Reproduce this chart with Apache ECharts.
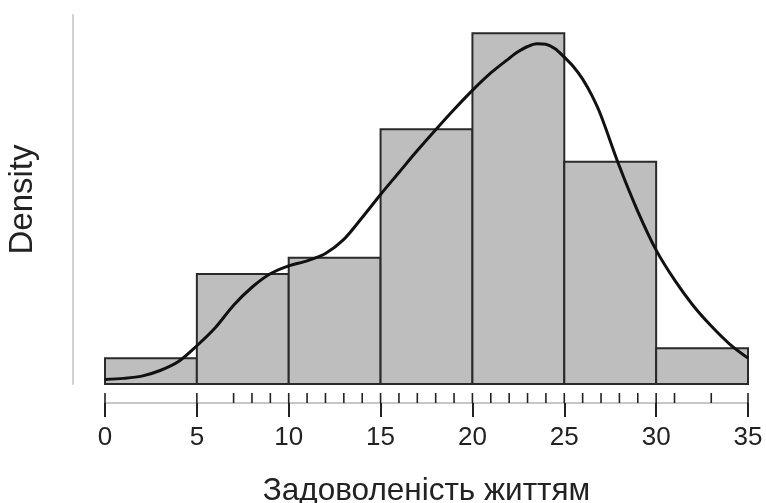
<!DOCTYPE html>
<html>
<head>
<meta charset="utf-8">
<script src="https://cdn.jsdelivr.net/npm/echarts@6/dist/echarts.min.js"></script>
<style>
html,body{margin:0;padding:0;background:#fff;}
#chart{width:766px;height:503px;}
</style>
</head>
<body>
<div id="chart"></div>
<script>
// Histogram bins [start, end] and densities
const binStarts = [0, 5, 10, 15, 20, 25, 30];
const binEnds = [5, 10, 15, 20, 25, 30, 35];
const binDensity = [0.00457, 0.01956, 0.02245, 0.04528, 0.06235, 0.03952, 0.00635];

// Kernel density curve (x, density)
const curveX = [0, 1, 2, 3, 4, 5, 6, 7, 8, 9, 10, 11, 12, 13, 14, 15, 16, 17, 18, 19, 20, 21, 22, 22.5, 23, 23.5, 24, 24.5, 25, 25.5, 26, 26.5, 27, 28, 29, 30, 31, 32, 33, 34, 35];
const curveY = [0.0008, 0.0010, 0.0014, 0.0024, 0.0040, 0.0068, 0.0100, 0.0140, 0.0172, 0.0196, 0.0210, 0.0219, 0.0232, 0.0257, 0.0296, 0.0337, 0.0376, 0.0415, 0.0452, 0.0488, 0.0522, 0.0553, 0.0579, 0.0591, 0.0600, 0.0605, 0.0604, 0.0596, 0.0581, 0.0564, 0.0542, 0.0513, 0.0477, 0.0387, 0.0307, 0.0238, 0.0185, 0.0140, 0.0103, 0.0071, 0.0046];

// Rug of observed values
const rugValues = [0, 5, 7, 8, 9, 10, 11, 12, 13, 14, 15, 16, 17, 18, 19, 20, 21, 22, 23, 24, 25, 26, 27, 28, 29, 30, 31, 33, 35];

const xTicks = [0, 5, 10, 15, 20, 25, 30, 35];
const xTitle = 'Задоволеність життям';
const yTitle = 'Density';

const FONT = '"Liberation Sans", Arial, sans-serif';
const chart = echarts.init(document.getElementById('chart'), null, {renderer: 'canvas'});

const barData = binStarts.map((s, i) => [s, binEnds[i], binDensity[i]]);
const curveData = curveX.map((x, i) => [x, curveY[i]]);
const rugData = rugValues.map(v => [v, 0]);

chart.setOption({
  animation: false,
  backgroundColor: '#fff',
  grid: {left: 105, right: 18, top: 15, bottom: 119, containLabel: false, outerBoundsMode: 'none'},
  xAxis: {
    type: 'value', min: xTicks[0], max: xTicks[xTicks.length - 1], interval: 5,
    offset: 19,
    axisLine: {show: true, onZero: false, lineStyle: {color: '#b5b5b5', width: 1.5}},
    axisTick: {show: true, length: 14, lineStyle: {color: '#222', width: 2}},
    axisLabel: {fontSize: 26, color: '#222', fontFamily: FONT, margin: 22},
    splitLine: {show: false},
    name: xTitle, nameLocation: 'middle', nameGap: 72,
    nameTextStyle: {fontSize: 31.5, color: '#222', fontFamily: FONT}
  },
  yAxis: {
    type: 'value', min: 0, max: 0.0656,
    offset: 32,
    axisLine: {show: true, onZero: false, lineStyle: {color: '#d2d2d2', width: 2}},
    axisTick: {show: false}, axisLabel: {show: false}, splitLine: {show: false},
    name: yTitle, nameLocation: 'middle', nameGap: 34,
    nameTextStyle: {fontSize: 33, color: '#222', fontFamily: FONT}
  },
  series: [
    {
      type: 'custom', data: barData, clip: false, z: 2,
      renderItem: function (params, api) {
        const s = api.coord([api.value(0), 0]);
        const e = api.coord([api.value(1), api.value(2)]);
        return {type: 'rect', shape: {x: s[0], y: e[1], width: e[0] - s[0], height: s[1] - e[1]},
          style: {fill: '#bebebe', stroke: '#2a2a2a', lineWidth: 2}};
      }
    },
    {
      type: 'line', data: curveData, smooth: 0.3, showSymbol: false, z: 5, clip: false,
      lineStyle: {color: '#111', width: 3}
    },
    {
      type: 'custom', data: rugData, clip: false, z: 3,
      renderItem: function (params, api) {
        const p = api.coord([api.value(0), 0]);
        return {type: 'line', shape: {x1: p[0], y1: p[1] + 9, x2: p[0], y2: p[1] + 19},
          style: {stroke: '#222', lineWidth: 1.6}};
      }
    }
  ]
});
</script>
</body>
</html>
